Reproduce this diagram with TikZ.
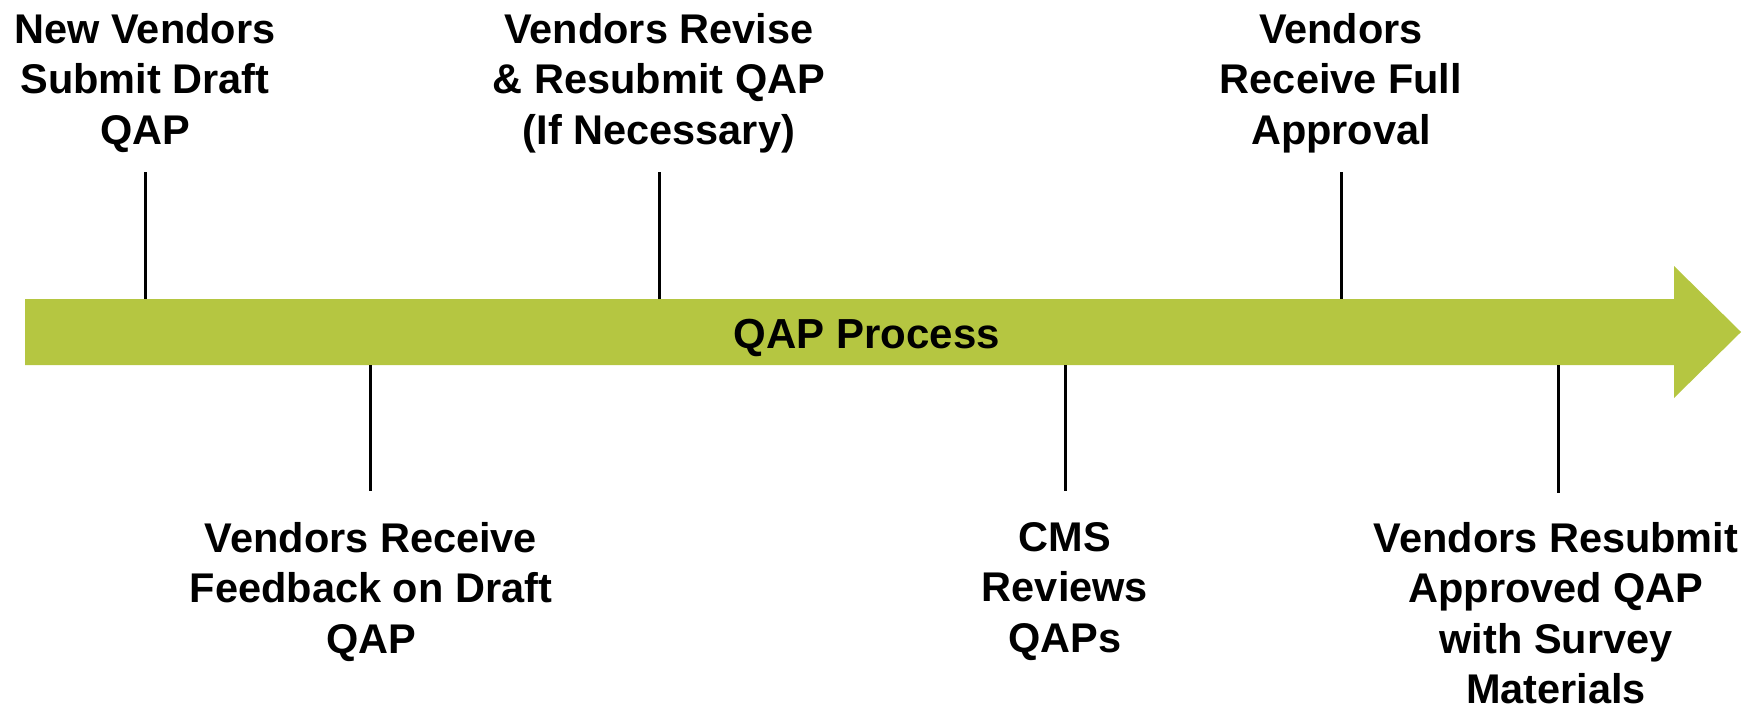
\documentclass[tikz,border=0pt]{standalone}
\usepackage{fontspec}
\setmainfont{Liberation Sans}
\definecolor{qapgreen}{RGB}{181,198,65}
\begin{document}
\begin{tikzpicture}[x=1pt,y=-1pt,
  label/.style={align=center,inner sep=0pt,anchor=north,font=\fontsize{41.5}{50.5}\selectfont\bfseries},
  tick/.style={draw=black,line width=3pt}]
\useasboundingbox (0,0) rectangle (1761,709);
% arrow
\fill[qapgreen] (25,299) -- (1674,299) -- (1674,266) -- (1741,332) -- (1674,398) -- (1674,365) -- (25,365) -- cycle;
\node[font=\fontsize{42}{50}\selectfont\bfseries,inner sep=0pt,anchor=base] (proc) at (866.7,348) {QAP Process};
% top labels
\node[label] (t1) at (145,13) {New Vendors\\Submit Draft\\QAP};
\node[label] (t2) at (659,13) {Vendors Revise\\\& Resubmit QAP\\(If Necessary)};
\node[label] (t3) at (1341,13) {Vendors\\Receive Full\\Approval};
% bottom labels
\node[label] (b1) at (371,522) {Vendors Receive\\Feedback on Draft\\QAP};
\node[label] (b2) at (1065,522) {CMS\\Reviews\\QAPs};
\node[label] (b3) at (1556,522) {Vendors Resubmit\\Approved QAP\\with Survey\\Materials};
% tick coordinates
\coordinate (t1a) at (145,172);  \coordinate (t1b) at (145,299);
\coordinate (t2a) at (659,172);  \coordinate (t2b) at (659,299);
\coordinate (t3a) at (1341,172); \coordinate (t3b) at (1341,299);
\coordinate (b1a) at (370,365);  \coordinate (b1b) at (370,491);
\coordinate (b2a) at (1065.5,365); \coordinate (b2b) at (1065.5,491);
\coordinate (b3a) at (1558,365); \coordinate (b3b) at (1558,493);
\draw[tick] (t1a) -- (t1b);
\draw[tick] (t2a) -- (t2b);
\draw[tick] (t3a) -- (t3b);
\draw[tick] (b1a) -- (b1b);
\draw[tick] (b2a) -- (b2b);
\draw[tick] (b3a) -- (b3b);
\end{tikzpicture}
\end{document}
